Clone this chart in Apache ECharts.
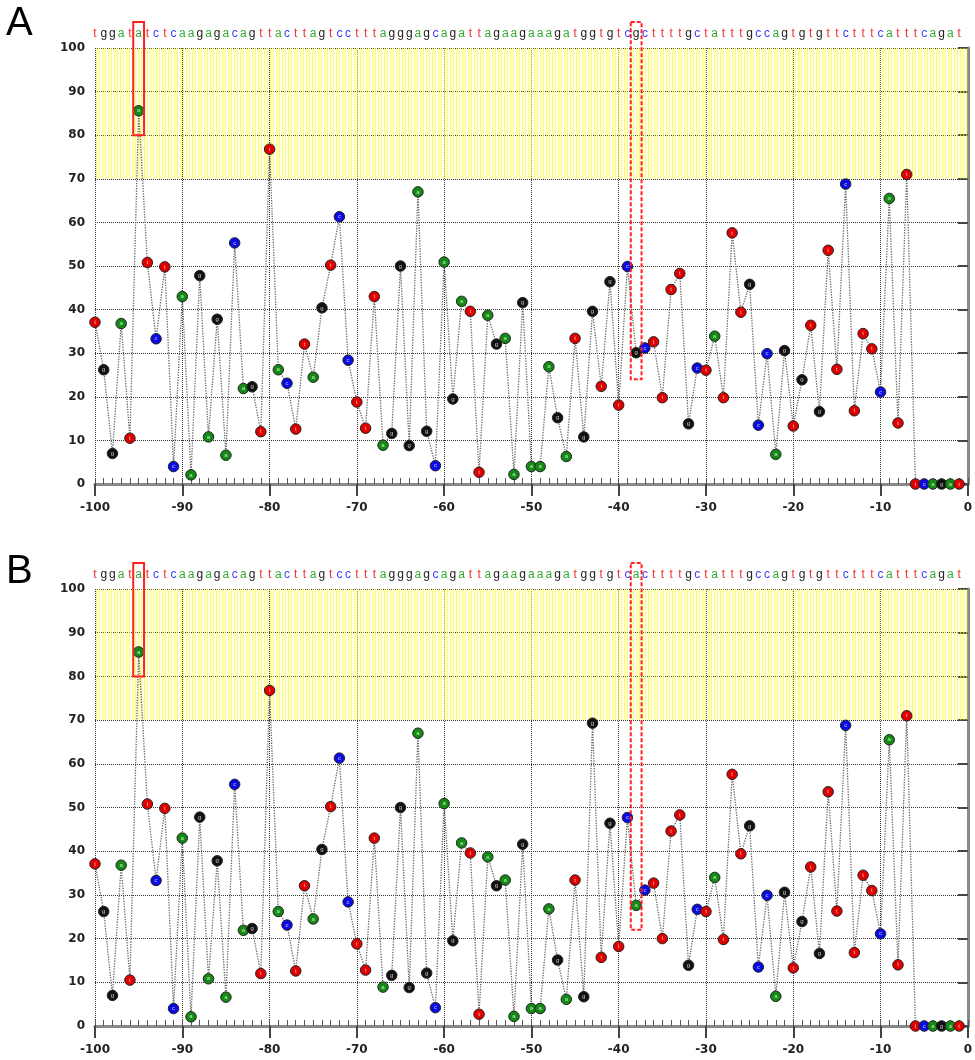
<!DOCTYPE html>
<html>
<head>
<meta charset="utf-8">
<script src="https://cdn.jsdelivr.net/npm/echarts@6/dist/echarts.min.js"></script>
<style>
html,body{margin:0;padding:0;background:#fff;}
#main{width:975px;height:1060px;}
</style>
</head>
<body>
<div id="main"></div>
<script>
// ---------------- DATA ----------------
// Nucleotide sequence, positions -100 .. -1
const seqA = 'tggatatctcaagagacagttacttagtcctttagggagcagattagaagaaagatggtgtcgcttttgctatttgccagtgtgttctttcatttcagat'.split('');
const seqB = 'tggatatctcaagagacagttacttagtcctttagggagcagattagaagaaagatggtgtcacttttgctatttgccagtgtgttctttcatttcagat'.split('');
const startPos = -100;

const valuesA = [
  37.1, 26.2, 7.0, 36.8, 10.5, 85.6, 50.8, 33.3, 49.8, 4.0,
  43.0, 2.1, 47.8, 10.8, 37.8, 6.6, 55.3, 21.9, 22.3, 12.0,
  76.8, 26.2, 23.1, 12.6, 32.1, 24.5, 40.4, 50.2, 61.3, 28.4,
  18.8, 12.8, 43.0, 8.9, 11.6, 50.0, 8.8, 67.0, 12.1, 4.2,
  50.9, 19.5, 41.9, 39.6, 2.7, 38.7, 32.1, 33.4, 2.2, 41.6,
  4.0, 4.0, 26.9, 15.2, 6.3, 33.4, 10.8, 39.6, 22.4, 46.4,
  18.1, 49.9, 30.1, 31.2, 32.6, 19.8, 44.6, 48.3, 13.8, 26.6,
  26.1, 33.9, 19.8, 57.6, 39.4, 45.8, 13.5, 29.9, 6.8, 30.6,
  13.3, 23.9, 36.4, 16.6, 53.6, 26.3, 68.8, 16.8, 34.5, 31.0,
  21.1, 65.5, 14.0, 71.0, 0, 0, 0, 0, 0, 0
];
const valuesB = [
  37.1, 26.2, 7.0, 36.8, 10.5, 85.6, 50.8, 33.3, 49.8, 4.0,
  43.0, 2.1, 47.8, 10.8, 37.8, 6.6, 55.3, 21.9, 22.3, 12.0,
  76.8, 26.2, 23.1, 12.6, 32.1, 24.5, 40.4, 50.2, 61.3, 28.4,
  18.8, 12.8, 43.0, 8.9, 11.6, 50.0, 8.8, 67.0, 12.1, 4.2,
  50.9, 19.5, 41.9, 39.6, 2.7, 38.7, 32.1, 33.4, 2.2, 41.6,
  4.0, 4.0, 26.8, 15.1, 6.1, 33.4, 6.7, 69.3, 15.7, 46.4,
  18.2, 47.7, 27.6, 31.1, 32.7, 20.0, 44.6, 48.3, 13.9, 26.7,
  26.2, 34.0, 19.8, 57.6, 39.4, 45.8, 13.5, 29.9, 6.8, 30.6,
  13.3, 23.9, 36.4, 16.6, 53.6, 26.3, 68.8, 16.8, 34.5, 31.0,
  21.1, 65.5, 14.0, 71.0, 0, 0, 0, 0, 0, 0
];
const panelLabels = ['A', 'B'];
const bandRange = [70, 100];
const solidBoxA = {pos: -95, bottom: 80};
const dashBoxA = {pos: -38, bottom: 24};
const solidBoxB = {pos: -95, bottom: 80};
const dashBoxB = {pos: -38, bottom: 22};

// ---------------- STYLE ----------------
const dotColor = {t: '#e00000', g: '#111111', a: '#138a13', c: '#0a0ae6'};
const letterColor = {t: '#f03030', g: '#222222', a: '#33aa33', c: '#3a3aff'};

const pat = document.createElement('canvas');
pat.width = 3; pat.height = 4;
const pctx = pat.getContext('2d');
pctx.fillStyle = 'rgba(255,255,0,0.6)'; pctx.fillRect(0, 0, 1, 4);
pctx.fillStyle = 'rgba(255,255,120,0.25)'; pctx.fillRect(1, 0, 1, 4);

const grids = [
  {left: 95, width: 873, top: 48, height: 436},
  {left: 95, width: 873, top: 589, height: 437}
];

function bottomAxis(gi) {
  return {
    gridIndex: gi, type: 'value', min: -100, max: 0, interval: 10, position: 'bottom',
    axisLine: {show: true, onZero: false, lineStyle: {color: '#888', width: 3}},
    axisTick: {show: true, length: 12, lineStyle: {color: '#444', width: 2}},
    axisLabel: {margin: 18, fontFamily: 'DejaVu Sans', fontWeight: 'bold', fontSize: 12, color: '#222'},
    splitLine: {show: true, lineStyle: {type: 'dotted', color: '#333', width: 1}}
  };
}
function topAxis(gi, seq) {
  const rich = {};
  Object.keys(letterColor).forEach(k => {
    rich[k] = {color: letterColor[k], fontSize: 12, fontFamily: 'Liberation Sans'};
  });
  return {
    gridIndex: gi, type: 'value', min: -100, max: 0, interval: 1, position: 'top',
    axisLine: {show: false},
    axisTick: {show: true, length: 6, lineStyle: {color: '#555', width: 1}},
    axisLabel: {
      margin: 8, rich: rich,
      formatter: function (v) {
        const i = Math.round(v - startPos);
        if (i < 0 || i >= seq.length) return '';
        return '{' + seq[i] + '|' + seq[i] + '}';
      }
    },
    splitLine: {show: false}
  };
}
function leftAxis(gi) {
  return {
    gridIndex: gi, type: 'value', min: 0, max: 100, interval: 10,
    axisLine: {show: true, lineStyle: {color: '#888', width: 3}},
    axisTick: {show: true, length: 10, lineStyle: {color: '#444', width: 2}},
    axisLabel: {margin: 10, fontFamily: 'DejaVu Sans', fontWeight: 'bold', fontSize: 12, color: '#222'},
    splitLine: {show: true, lineStyle: {type: 'dotted', color: '#333', width: 1}}
  };
}
function makeSeries(values, seq, xi, yi) {
  return {
    type: 'line', xAxisIndex: xi, yAxisIndex: yi, clip: false,
    symbol: 'circle', symbolSize: 10.5,
    lineStyle: {type: 'dotted', color: '#666', width: 1.3},
    itemStyle: {borderColor: '#222', borderWidth: 1},
    label: {
      show: true, position: 'inside', fontSize: 6, color: 'rgba(255,255,255,0.75)',
      formatter: function (p) { return seq[p.dataIndex]; }
    },
    data: values.map((v, i) => ({
      value: [startPos + i, v],
      itemStyle: {color: dotColor[seq[i]]}
    })),
    markArea: {
      silent: true,
      itemStyle: {color: {image: pat, repeat: 'repeat'}},
      data: [[{xAxis: -100, yAxis: bandRange[0]}, {xAxis: 0, yAxis: bandRange[1]}]]
    },
    animation: false
  };
}

const chart = echarts.init(document.getElementById('main'), null, {renderer: 'canvas'});
chart.setOption({
  backgroundColor: '#fff',
  animation: false,
  grid: grids,
  xAxis: [bottomAxis(0), topAxis(0, seqA), bottomAxis(1), topAxis(1, seqB)],
  yAxis: [leftAxis(0), leftAxis(1)],
  series: [makeSeries(valuesA, seqA, 0, 0), makeSeries(valuesB, seqB, 2, 1)]
});

// annotation boxes, placed through the chart's own scales
function boxGraphic(gi, box, dashed) {
  const half = 0.62;
  const p1 = chart.convertToPixel({gridIndex: gi}, [box.pos - half, box.bottom]);
  const p2 = chart.convertToPixel({gridIndex: gi}, [box.pos + half, box.bottom]);
  const top = grids[gi].top - 26;
  return {
    type: 'rect', z: 100,
    shape: {x: p1[0], y: top, width: p2[0] - p1[0], height: p1[1] - top},
    style: {fill: 'none', stroke: '#ff2020', lineWidth: 2, lineDash: dashed ? [4, 2] : null}
  };
}
const graphics = [
  boxGraphic(0, solidBoxA, false), boxGraphic(0, dashBoxA, true),
  boxGraphic(1, solidBoxB, false), boxGraphic(1, dashBoxB, true),
  {type: 'text', left: 6, top: 4, style: {text: panelLabels[0], font: '40px "Liberation Sans"', fill: '#000'}},
  {type: 'text', left: 6, top: 552, style: {text: panelLabels[1], font: '40px "Liberation Sans"', fill: '#000'}}
];
chart.setOption({graphic: graphics});
</script>
</body>
</html>
